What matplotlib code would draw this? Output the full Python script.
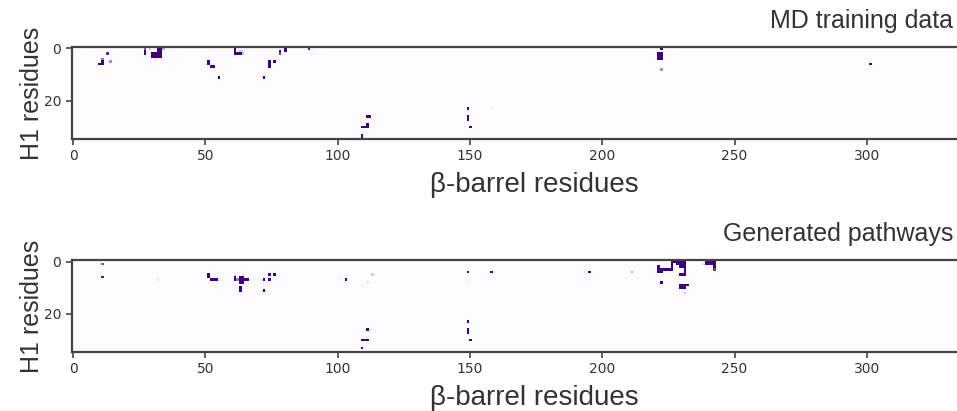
import numpy as np
import matplotlib
matplotlib.use('Agg')
import matplotlib.pyplot as plt

# contact map size: H1 residues x beta-barrel residues
n_h1 = 35
n_barrel = 350

# MD training data contacts (row = H1 residue, col = barrel residue, value = frequency)
md_rows = [4, 5, 6, 6, 2, 5, 0, 1, 2,
           0, 0, 1, 1, 2, 2, 2, 2, 3, 3, 3, 3, 0, 4, 0,
           5, 6, 7, 7, 11,
           0, 1, 2, 2, 2, 1, 1, 2,
           11, 5, 5, 6, 7, 1, 2, 0, 1, 0, 2,
           26, 26, 29, 30, 30, 30, 33, 34,
           23, 26, 27, 30, 23,
           0, 2, 2, 3, 3, 4, 4, 8, 6]
md_cols = [11, 11, 11, 10, 13, 14, 27, 27, 27,
           32, 33, 32, 33, 30, 31, 32, 33, 30, 31, 32, 33, 34, 31, 29,
           51, 51, 52, 53, 55,
           61, 61, 61, 62, 63, 63, 64, 64,
           72, 74, 76, 74, 74, 78, 78, 80, 80, 89, 91,
           111, 112, 111, 109, 110, 111, 109, 109,
           149, 149, 149, 150, 158,
           222, 221, 222, 221, 222, 221, 222, 222, 301]
md_vals = [0.6, 1, 1, 1, 0.85, 0.5, 0.7, 1, 1,
           1, 1, 1, 1, 1, 1, 1, 1, 1, 1, 1, 1, 0.45, 0.2, 0.3,
           1, 1, 1, 1, 1,
           1, 1, 1, 1, 1, 0.3, 0.25, 0.35,
           1, 1, 1, 1, 1, 1, 0.8, 1, 1, 0.9, 0.08,
           1, 1, 1, 1, 1, 1, 1, 1,
           1, 1, 1, 1, 0.1,
           1, 1, 1, 1, 1, 1, 1, 0.5, 1]

# generated pathway contacts
gen_rows = [1, 6, 7,
            5, 6, 7, 7, 7, 7,
            5, 5, 6, 7, 7,
            6, 6, 7, 7, 8, 8, 7, 7, 10, 11,
            5, 5, 7, 7, 11,
            7, 7, 5, 5, 8,
            26, 26, 29, 30, 30, 30, 33,
            4, 4, 8, 23, 26, 27, 30,
            4, 4, 4,
            # cluster around residue 220-232
            0, 0, 0, 0, 0, 0,
            1, 1, 1, 1, 1,
            2, 2, 2, 2, 2,
            3, 3, 3, 3, 3, 3, 3,
            4, 4, 4,
            5, 5, 5,
            8,
            9, 9, 9, 9, 10, 10, 10, 12,
            # cluster around residue 240
            0, 0, 0, 0, 1, 1, 1, 1, 2, 3, 1]
gen_cols = [11, 11, 32,
            51, 51, 52, 53, 54, 55,
            61, 64, 61, 61, 62,
            63, 64, 63, 64, 63, 64, 65, 66, 63, 63,
            74, 76, 72, 74, 72,
            101, 103, 103, 113, 111,
            111, 112, 111, 109, 110, 111, 109,
            149, 158, 149, 149, 149, 149, 150,
            193, 195, 211,
            226, 227, 228, 229, 230, 231,
            226, 228, 229, 230, 231,
            221, 226, 229, 230, 231,
            221, 222, 223, 224, 225, 226, 231,
            221, 222, 231,
            229, 230, 231,
            222,
            229, 230, 231, 232, 229, 230, 231, 231,
            239, 240, 241, 242, 239, 240, 241, 242, 242, 242, 238]
gen_vals = [0.7, 0.9, 0.15,
            1, 1, 1, 1, 1, 0.15,
            0.15, 0.15, 1, 1, 0.6,
            1, 1, 1, 1, 1, 1, 1, 1, 1, 1,
            1, 1, 1, 1, 1,
            0.08, 1, 0.1, 0.3, 0.15,
            1, 0.15, 0.15, 1, 1, 1, 1,
            1, 1, 0.1, 1, 1, 1, 1,
            0.15, 1, 0.4,
            1, 1, 1, 1, 1, 1,
            1, 1, 1, 1, 1,
            1, 1, 1, 1, 1,
            1, 1, 1, 1, 1, 1, 1,
            1, 1, 1,
            1, 1, 1,
            1,
            1, 1, 1, 1, 1, 1, 1, 0.3,
            1, 1, 1, 1, 1, 1, 1, 1, 1, 0.8, 0.2]

titles = ['MD training data', 'Generated pathways']


def contact_map(rows, cols, vals):
    m = np.zeros((n_h1, n_barrel))
    m[rows, cols] = vals
    return m


maps = [contact_map(md_rows, md_cols, md_vals),
        contact_map(gen_rows, gen_cols, gen_vals)]

W, H = 957, 411
fig = plt.figure(figsize=(W / 100, H / 100), dpi=100)

label_font = ['Liberation Sans', 'DejaVu Sans']
text_color = '#333333'
spine_color = '#444444'

# pixel boxes (left, top, width, height); the maps run past the right edge
px_per_col = 2.646
boxes = [(71.7, 47.0, n_barrel * px_per_col, 92.0),
         (71.7, 260.3, n_barrel * px_per_col, 91.5)]
title_y = [21, 234]

for m, title, (l, t, w, h), ty in zip(maps, titles, boxes, title_y):
    ax = fig.add_axes([l / W, 1 - (t + h) / H, w / W, h / H])
    ax.imshow(m, cmap='Purples', vmin=0, vmax=1, aspect='auto',
              interpolation='nearest')
    ax.set_xticks([0, 50, 100, 150, 200, 250, 300])
    ax.set_yticks([0, 20])
    ax.tick_params(labelsize=10, colors=spine_color, labelcolor=text_color,
                   length=4, width=1.2)
    for s in ax.spines.values():
        s.set_color(spine_color)
        s.set_linewidth(1.6)
    ax.set_xlabel('β-barrel residues', fontsize=20, family=label_font,
                  color=text_color, labelpad=6)
    ax.set_ylabel('H1 residues', fontsize=18, family=label_font,
                  color=text_color, labelpad=0)
    fig.text(953 / W, 1 - ty / H, title, ha='right', va='center',
             fontsize=18, family=label_font, color=text_color)

fig.savefig('out.png', dpi=100)
